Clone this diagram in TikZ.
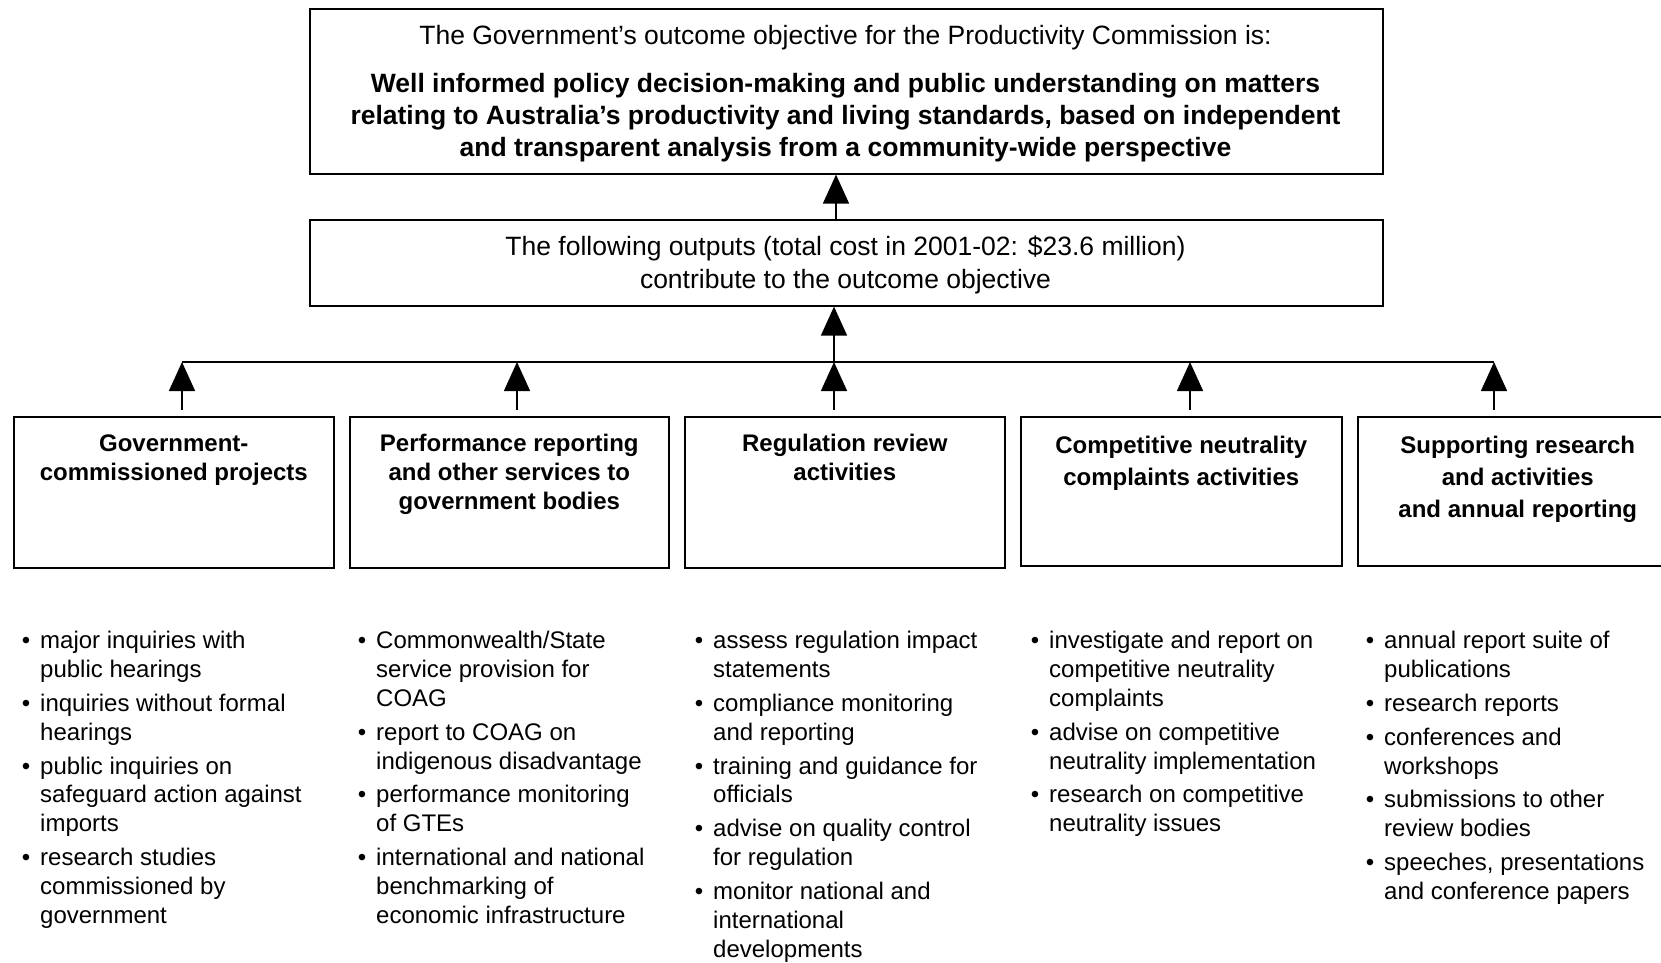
\documentclass[tikz,border=0pt]{standalone}
\usepackage{fontspec}
\setmainfont{Liberation Sans}
\usetikzlibrary{arrows.meta,calc}

% bullet hanging in the left margin of a list line
\newcommand{\bul}{\makebox[0pt][r]{\textbullet\hspace{10pt}}}

\begin{document}
\begin{tikzpicture}[x=1pt,y=-1pt,
  box/.style={draw=black,line width=1.6pt,rectangle,inner sep=0pt},
  headtxt/.style={inner sep=0pt,align=center,font=\fontsize{24}{28.9}\selectfont\bfseries},
  plaintxt/.style={inner sep=0pt,align=center},
  listtxt/.style={inner sep=0pt,align=left,anchor=north west,font=\fontsize{24}{28.9}\selectfont},
  link/.style={line width=1.5pt,draw=black},
  conn/.style={link,-{Triangle[width=26pt,length=29pt]}}]
\useasboundingbox (0,0) rectangle (1661,962);
\clip (0,0) rectangle (1661,962);

% outcome objective
\node[box,anchor=north west,minimum width=1073pt,minimum height=165pt] (goal) at (309,8) {};
\node[plaintxt,anchor=north,font=\fontsize{26.5}{32}\selectfont] (goaltxt) at (845.5,22)
  {\strut The Government’s outcome objective for the Productivity Commission is:\\[16pt]
   \bfseries Well informed policy decision-making and public understanding on matters\\
   \bfseries relating to Australia’s productivity and living standards, based on independent\\
   \bfseries and transparent analysis from a community-wide perspective};

% outputs
\node[box,anchor=north west,minimum width=1073pt,minimum height=86pt] (outs) at (309,219) {};
\node[plaintxt,anchor=north,font=\fontsize{26.5}{33}\selectfont] (outstxt) at (845.5,232)
  {\strut The following outputs (total cost in 2001-02: \$23.6 million)\\
   contribute to the outcome objective};

% output groups
\node[box,anchor=north west,minimum width=320pt,minimum height=151pt] (b1) at (13,416) {};
\node[box,anchor=north west,minimum width=319pt,minimum height=151pt] (b2) at (349,416) {};
\node[box,anchor=north west,minimum width=320pt,minimum height=151pt] (b3) at (684,416) {};
\node[box,anchor=north west,minimum width=321pt,minimum height=149pt] (b4) at (1020,416) {};
\node[box,anchor=north west,minimum width=320pt,minimum height=149pt] (b5) at (1357,416) {};

\node[headtxt,anchor=north] (h1) at ($(b1.north)+(0,15)$) {\strut Government-\\commissioned projects};
\node[headtxt,anchor=north] (h2) at ($(b2.north)+(0,15)$) {\strut Performance reporting\\and other services to\\government bodies};
\node[headtxt,anchor=north] (h3) at ($(b3.north)+(0,15)$) {\strut Regulation review\\activities};
\node[headtxt,anchor=north,font=\fontsize{24}{31.8}\selectfont\bfseries] (h4) at ($(b4.north)+(0,15)$) {\strut Competitive neutrality\\complaints activities};
\node[headtxt,anchor=north,font=\fontsize{24}{31.8}\selectfont\bfseries] (h5) at ($(b5.north)+(0,15)$) {\strut Supporting research\\and activities\\and annual reporting};

% connectors
\coordinate (a0) at (836,190);
\coordinate (j1) at (182,362);
\coordinate (j2) at (517,362);
\coordinate (j3) at (834,362);
\coordinate (j4) at (1190,362);
\coordinate (j5) at (1494,362);
\draw[conn] (a0 |- outs.north) -- (a0 |- goal.south);
\draw[conn] (j3) -- (j3 |- outs.south);
\draw[link] (j1) -- (j5);
\draw[conn,shorten <=6pt] (j1 |- b1.north) -- (j1);
\draw[conn,shorten <=6pt] (j2 |- b2.north) -- (j2);
\draw[conn,shorten <=6pt] (j3 |- b3.north) -- (j3);
\draw[conn,shorten <=6pt] (j4 |- b4.north) -- (j4);
\draw[conn,shorten <=6pt] (j5 |- b5.north) -- (j5);

% activity lists
\node[listtxt] (l1) at (40,628)
  {\strut\bul major inquiries with\\public hearings\\[5pt]
   \bul inquiries without formal\\hearings\\[5pt]
   \bul public inquiries on\\safeguard action against\\imports\\[5pt]
   \bul research studies\\commissioned by\\government};
\node[listtxt] (l2) at (376,628)
  {\strut\bul Commonwealth/State\\service provision for\\COAG\\[5pt]
   \bul report to COAG on\\indigenous disadvantage\\[5pt]
   \bul performance monitoring\\of GTEs\\[5pt]
   \bul international and national\\benchmarking of\\economic infrastructure};
\node[listtxt] (l3) at (713,628)
  {\strut\bul assess regulation impact\\statements\\[5pt]
   \bul compliance monitoring\\and reporting\\[5pt]
   \bul training and guidance for\\officials\\[5pt]
   \bul advise on quality control\\for regulation\\[5pt]
   \bul monitor national and\\international\\developments};
\node[listtxt] (l4) at (1049,628)
  {\strut\bul investigate and report on\\competitive neutrality\\complaints\\[5pt]
   \bul advise on competitive\\neutrality implementation\\[5pt]
   \bul research on competitive\\neutrality issues};
\node[listtxt] (l5) at (1384,628)
  {\strut\bul annual report suite of\\publications\\[5pt]
   \bul research reports\\[5pt]
   \bul conferences and\\workshops\\[5pt]
   \bul submissions to other\\review bodies\\[5pt]
   \bul speeches, presentations\\and conference papers};
\end{tikzpicture}
\end{document}
